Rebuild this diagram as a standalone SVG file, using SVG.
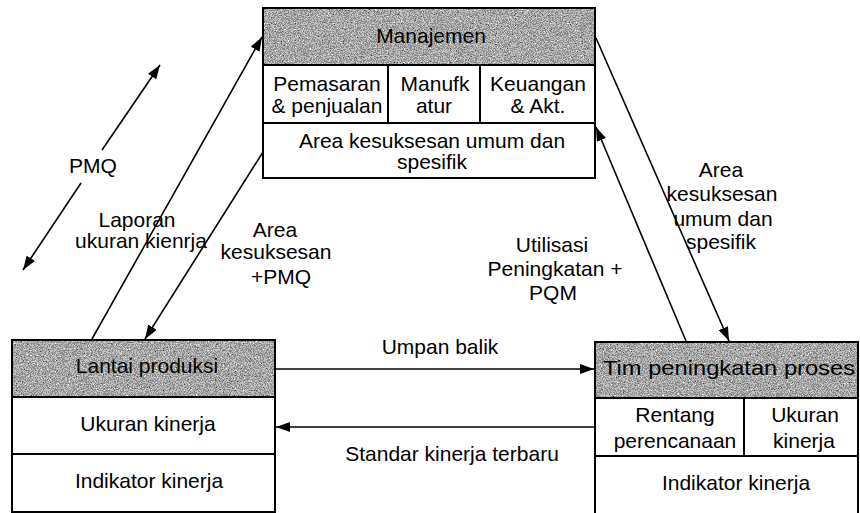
<svg xmlns="http://www.w3.org/2000/svg" width="860" height="513" viewBox="0 0 860 513">
  <defs>
    <style>
      text { font-family: "Liberation Sans", Arial, sans-serif; font-size: 21px; fill: #000; text-anchor: middle; }
      .box { fill: #fff; stroke: #000; stroke-width: 2; }
      .head { fill: #b0b0b0; filter: url(#dither); }
      .div { stroke: #000; stroke-width: 2; fill: none; }
      .link { stroke: #000; stroke-width: 1.6; fill: none; marker-end: url(#arrow); }
    </style>
    <marker id="arrow" viewBox="0 0 14 10" refX="14" refY="5" markerWidth="14" markerHeight="10" markerUnits="userSpaceOnUse" orient="auto">
      <path d="M0,0 L14,5 L0,10 Z" fill="#000"/>
    </marker>
    <!-- speckled grey fill for the title bands -->
    <filter id="dither" x="0" y="0" width="1" height="1" color-interpolation-filters="sRGB">
      <feTurbulence type="fractalNoise" baseFrequency="0.85" numOctaves="2" seed="7" result="noise"/>
      <feColorMatrix in="noise" type="matrix" values="1 0 0 0 0  1 0 0 0 0  1 0 0 0 0  0 0 0 0 1" result="grey"/>
      <feComponentTransfer in="grey" result="steps">
        <feFuncR type="discrete" tableValues="0.3 0.55 0.75 1"/>
        <feFuncG type="discrete" tableValues="0.3 0.55 0.75 1"/>
        <feFuncB type="discrete" tableValues="0.3 0.55 0.75 1"/>
      </feComponentTransfer>
      <feComposite in="steps" in2="SourceGraphic" operator="in"/>
    </filter>
  </defs>

  <rect width="860" height="513" fill="#fff"/>

  <!-- Manajemen -->
  <g id="manajemen">
    <rect class="box" x="263" y="8" width="332" height="170"/>
    <rect class="head" x="264" y="9" width="330" height="56"/>
    <line class="div" x1="263" y1="65" x2="595" y2="65"/>
    <line class="div" x1="263" y1="123" x2="595" y2="123"/>
    <line class="div" x1="388" y1="65" x2="388" y2="123"/>
    <line class="div" x1="480" y1="65" x2="480" y2="123"/>
    <text x="431" y="43">Manajemen</text>
    <text x="327" y="91">Pemasaran</text>
    <text x="327" y="113">&amp; penjualan</text>
    <text x="435" y="91">Manufk</text>
    <text x="434" y="113">atur</text>
    <text x="538" y="91">Keuangan</text>
    <text x="538" y="113">&amp; Akt.</text>
    <text x="432" y="148">Area kesuksesan umum dan</text>
    <text x="432" y="169">spesifik</text>
  </g>

  <!-- Lantai produksi -->
  <g id="lantai-produksi">
    <rect class="box" x="12" y="340" width="263" height="172"/>
    <rect class="head" x="13" y="341" width="261" height="56"/>
    <line class="div" x1="12" y1="397" x2="275" y2="397"/>
    <line class="div" x1="12" y1="454" x2="275" y2="454"/>
    <text x="147" y="373">Lantai produksi</text>
    <text x="148" y="431">Ukuran kinerja</text>
    <text x="149" y="488">Indikator kinerja</text>
  </g>

  <!-- Tim peningkatan proses -->
  <g id="tim-peningkatan">
    <rect class="box" x="595" y="342" width="263" height="172"/>
    <rect class="head" x="596" y="343" width="261" height="55"/>
    <line class="div" x1="595" y1="398" x2="858" y2="398"/>
    <line class="div" x1="595" y1="456" x2="858" y2="456"/>
    <line class="div" x1="744" y1="398" x2="744" y2="456"/>
    <text x="729" y="375" textLength="252" lengthAdjust="spacingAndGlyphs">Tim peningkatan proses</text>
    <text x="675" y="422">Rentang</text>
    <text x="675" y="448">perencanaan</text>
    <text x="805" y="422">Ukuran</text>
    <text x="804" y="448">kinerja</text>
    <text x="736" y="490">Indikator kinerja</text>
  </g>

  <!-- Connectors -->
  <g id="connectors">
    <line class="link" x1="102" y1="150" x2="160" y2="65"/>
    <line class="link" x1="81" y1="183" x2="23" y2="270"/>
    <line class="link" x1="92" y1="339" x2="262" y2="37"/>
    <line class="link" x1="263" y1="152" x2="145" y2="339"/>
    <line class="link" x1="596" y1="38" x2="729" y2="341"/>
    <line class="link" x1="686" y1="341" x2="596" y2="127"/>
    <line class="link" x1="276" y1="369" x2="594" y2="369"/>
    <line class="link" x1="594" y1="427" x2="276" y2="427"/>
  </g>

  <!-- Connector labels -->
  <g id="labels">
    <text x="93" y="173">PMQ</text>
    <text x="137" y="227">Laporan</text>
    <text x="141" y="248">ukuran kienrja</text>
    <text x="275" y="237">Area</text>
    <text x="276" y="259">kesuksesan</text>
    <text x="281" y="284">+PMQ</text>
    <text x="552" y="252">Utilisasi</text>
    <text x="555" y="276">Peningkatan +</text>
    <text x="553" y="300">PQM</text>
    <text x="721" y="177">Area</text>
    <text x="722" y="201">kesuksesan</text>
    <text x="723" y="226">umum dan</text>
    <text x="721" y="249">spesifik</text>
    <text x="440" y="354">Umpan balik</text>
    <text x="452" y="461">Standar kinerja terbaru</text>
  </g>
</svg>
